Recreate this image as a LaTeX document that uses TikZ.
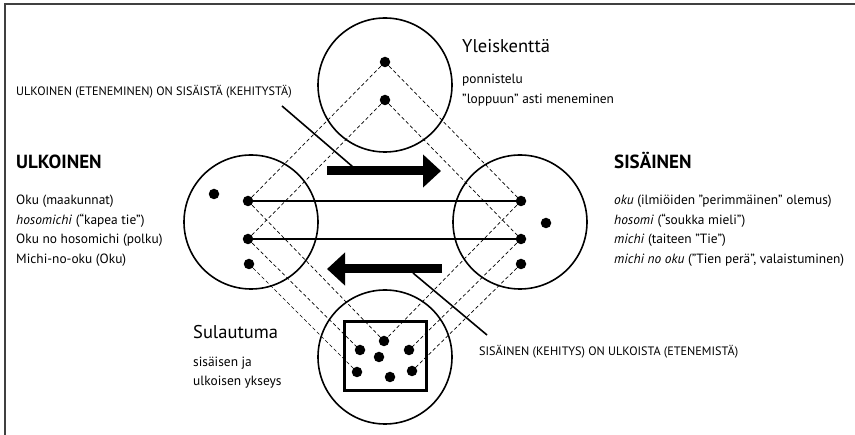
\documentclass[tikz,border=0pt]{standalone}
\usepackage{fontspec}
\setmainfont{PT Sans}
\usetikzlibrary{arrows.meta}
\begin{document}
\begin{tikzpicture}[x=1pt,y=-1pt,
  bigcircle/.style={draw, circle, line width=1.6pt, minimum size=134pt, inner sep=0},
  dot/.style={circle, fill=black, inner sep=0, minimum size=10.5pt},
  dashline/.style={dashed, dash pattern=on 3.5pt off 2.5pt, line width=0.7pt},
  solidline/.style={line width=1.6pt},
  leader/.style={line width=1.6pt},
  bigarrow/.style={line width=9pt, -{Triangle[length=18pt,width=32pt]}},
  body/.style={anchor=base west, inner sep=0, font=\fontsize{13.4}{16}\selectfont},
  head/.style={anchor=base west, inner sep=0, font=\fontsize{19}{22}\selectfont\bfseries},
  title/.style={anchor=base west, inner sep=0, font=\fontsize{18.5}{22}\selectfont},
  caption/.style={anchor=base west, inner sep=0, font=\fontsize{12.2}{14}\selectfont},
]
\useasboundingbox (0,0) rectangle (855,435);
\fill[white] (0,0) rectangle (855,435);
% frame
\coordinate (fbl) at (5,436);
\coordinate (ftl) at (5,4);
\coordinate (ftr) at (856,4);
\draw[line width=1.6pt, black!75] (fbl) -- (ftl) -- (ftr);

% circles
\node[bigcircle] (T) at (385,85) {};
\node[bigcircle] (L) at (251,222) {};
\node[bigcircle] (R) at (520,222) {};
\node[bigcircle] (B) at (385,357) {};

% rectangle in bottom circle
\node[draw, line width=3pt, minimum width=82pt, minimum height=69pt, inner sep=0] (box) at (385,356.5) {};

% dots
\node[dot] (t1) at (385,62) {};
\node[dot] (t2) at (385,100) {};
\node[dot] (l0) at (214,194) {};
\node[dot] (l1) at (248,201) {};
\node[dot] (l2) at (248,239) {};
\node[dot] (l3) at (249,264) {};
\node[dot] (r0) at (546,223) {};
\node[dot] (r1) at (521,201) {};
\node[dot] (r2) at (521,239) {};
\node[dot] (r3) at (521,264) {};
\node[dot] (b1) at (384,341) {};
\node[dot] (b2) at (360,350) {};
\node[dot] (b3) at (379,357) {};
\node[dot] (b4) at (409,350) {};
\node[dot] (b5) at (357,372) {};
\node[dot] (b6) at (390,377) {};
\node[dot] (b7) at (412,371) {};

% dashed connections
\draw[dashline] (t1.center) -- (l1.center);
\draw[dashline] (t1.center) -- (r1.center);
\draw[dashline] (t2.center) -- (l2.center);
\draw[dashline] (t2.center) -- (r2.center);
\draw[dashline] (l1.center) -- (b1.center);
\draw[dashline] (r1.center) -- (b1.center);
\draw[dashline] (l2.center) -- (b2.center);
\draw[dashline] (r2.center) -- (b4.center);
\draw[dashline] (l3.center) -- (b5.center);
\draw[dashline] (r3.center) -- (b7.center);

% solid horizontal connections
\draw[solidline] (l1.center) -- (r1.center);
\draw[solidline] (l2.center) -- (r2.center);

% big arrows
\coordinate (ra1) at (327,171);
\coordinate (ra2) at (441,171);
\draw[bigarrow] (ra1) -- (ra2);
\coordinate (la1) at (442,269);
\coordinate (la2) at (327,269);
\draw[bigarrow] (la1) -- (la2);

% leader lines
\coordinate (ld1a) at (282,106);
\coordinate (ld1b) at (353,167);
\draw[leader] (ld1a) -- (ld1b);
\coordinate (ld2a) at (413,273);
\coordinate (ld2b) at (487,335);
\draw[leader] (ld2a) -- (ld2b);

% texts
\node[caption] (cap1) at (16,95.5) {ULKOINEN (ETENEMINEN) ON SISÄISTÄ (KEHITYSTÄ)};
\node[caption] (cap2) at (479,356) {SISÄINEN (KEHITYS) ON ULKOISTA (ETENEMISTÄ)};

\node[head] (ulk) at (16,168.5) {ULKOINEN};
\node[body] (u1) at (16,205) {Oku (maakunnat)};
\node[body] (u2) at (16,224.5) {\textit{hosomichi} (“kapea tie”)};
\node[body] (u3) at (16,244) {Oku no hosomichi (polku)};
\node[body] (u4) at (16,263.5) {Michi-no-oku (Oku)};

\node[head] (sis) at (614,168.5) {SISÄINEN};
\node[body] (s1) at (614,205) {\textit{oku} (ilmiöiden ”perimmäinen” olemus)};
\node[body] (s2) at (614,224.5) {\textit{hosomi} (“soukka mieli”)};
\node[body] (s3) at (614,244) {\textit{michi} (taiteen ”Tie”)};
\node[body] (s4) at (614,263.5) {\textit{michi no oku} (”Tien perä”, valaistuminen)};

\node[title] (yl) at (462,53) {Yleiskenttä};
\node[body] (y1) at (462,84) {ponnistelu};
\node[body] (y2) at (462,104) {”loppuun” asti meneminen};

\node[title] (sul) at (193,338.5) {Sulautuma};
\node[body] (su1) at (193,367) {sisäisen ja};
\node[body] (su2) at (193,386) {ulkoisen ykseys};
\end{tikzpicture}
\end{document}
